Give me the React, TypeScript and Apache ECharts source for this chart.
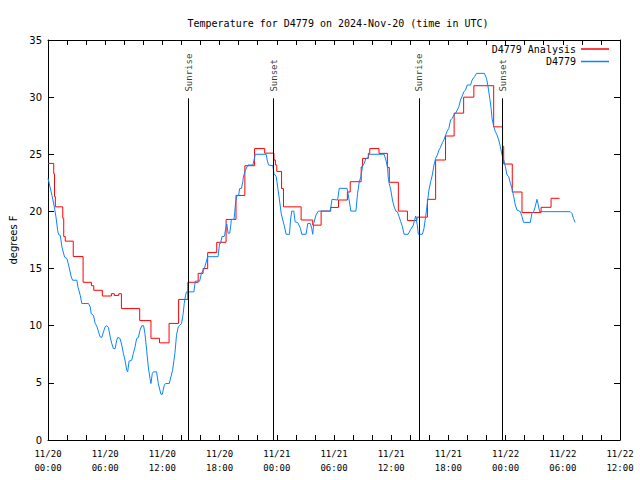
import React, { useEffect, useRef } from "react";
import * as echarts from "echarts";

// hours since 2024-11-20 00:00 UTC
const analysisTimes = [
  0, 0.6, 0.68, 0.77, 1.55, 1.65, 1.81, 2.65, 3.68, 4.55, 4.8, 5.7, 6.65, 6.95, 7.42, 7.7,
  9.62, 10.8, 11.7, 12.7, 13.7, 14.67, 15.75, 16.27, 16.75, 17.7, 18.68, 19.72, 20.65, 21.67,
  22.73, 23.7, 23.85, 24.0, 24.5, 24.7, 26.55, 27.77, 28.65, 29.65, 30.47, 31.4, 31.7, 32.85,
  33.0, 33.6, 33.75, 34.72, 35.6, 35.8, 36.75, 37.7, 38.7, 39.8, 40.66, 41.7, 42.6, 43.6,
  44.67, 46.75, 47.68, 47.8, 48.7, 49.72, 51.72, 52.77, 53.66,
];
const analysisValues = [
  24.2, 23.3, 21.3, 20.4, 19.4, 17.8, 17.4, 16.05, 13.8, 13.5, 13.1, 12.6, 12.8, 12.65, 12.8, 11.5,
  10.45, 8.9, 8.5, 10.2, 12.3, 13.8, 14.58, 15.0, 16.4, 17.3, 19.3, 21.4, 24.0, 25.5,
  25.1, 24.5, 24.06, 23.5, 22.0, 20.4, 19.25, 18.8, 20.03, 20.35, 21.0, 21.7, 22.6, 23.9,
  24.64, 25.08, 25.5, 25.08, 23.85, 22.55, 20.03, 19.2, 19.5, 21.06, 24.5, 26.6, 28.6, 30.0,
  31.0, 27.4, 25.7, 24.15, 21.7, 19.9, 20.36, 21.15, 21.15,
];

const obsTimes = [
  0.0, 0.42, 0.66, 0.84, 1.01, 1.11, 1.29, 1.46, 1.74, 1.99, 2.16, 2.44, 2.58, 3.03, 3.14, 3.38,
  3.55, 4.25, 4.43, 4.53, 4.77, 4.95, 5.12, 5.3, 5.47, 5.64, 5.82, 5.99, 6.17, 6.34, 6.52, 6.69,
  6.86, 7.04, 7.21, 7.32, 7.56, 7.74, 7.91, 8.08, 8.26, 8.36, 8.5, 8.78, 8.95, 9.13, 9.3, 9.48,
  9.65, 9.83, 10.03, 10.17, 10.35, 10.52, 10.7, 10.8, 10.94, 11.05, 11.39, 11.57, 11.74, 11.85,
  11.99, 12.2, 12.33, 12.72, 12.89, 13.07, 13.21, 13.31, 13.48, 13.66, 13.83, 14.01, 14.18, 14.29,
  14.43, 14.53, 15.3, 15.45, 15.9, 16.1, 16.4, 16.75, 17.84, 18.0, 18.11, 18.25, 18.47,
  18.54, 18.64, 18.75, 18.89, 19.06, 19.16, 19.23, 19.51, 19.58, 19.69, 19.83, 20.0, 20.1, 20.28,
  20.42, 20.49, 20.7, 20.97, 21.5, 21.74, 22.89, 22.99, 23.13, 23.59, 23.69, 23.94, 24.11, 24.28,
  24.46, 24.63, 24.81, 24.98, 25.33, 25.44, 25.57, 25.78, 25.92, 26.2, 26.48, 26.62, 27.07, 27.25,
  27.52, 27.66, 27.77, 27.87, 28.11, 28.36, 29.61, 29.79, 30.38, 30.55, 31.36, 31.5, 31.77, 32.3,
  32.47, 32.65, 32.82, 33.0, 33.17, 33.35, 33.52, 33.69, 35.26, 35.44, 35.61, 35.68, 35.79, 35.96,
  36.13, 36.31, 36.48, 36.65, 36.83, 37.0, 37.18, 37.35, 37.77, 38.05, 38.32, 38.46, 38.57, 38.74,
  38.85, 39.27, 39.44, 39.61, 39.79, 39.96, 40.14, 40.31, 40.49, 40.66, 40.84, 41.01, 41.18, 41.36,
  41.53, 41.71, 41.88, 42.05, 42.23, 42.4, 42.58, 42.75, 42.93, 43.1, 43.27, 43.45, 43.62, 43.8,
  43.97, 44.32, 44.49, 44.74, 44.95, 45.78, 45.99, 46.13, 46.34, 46.48, 46.58, 46.76, 46.93, 47.1,
  47.28, 47.45, 47.63, 47.81, 47.98, 48.15, 48.33, 48.5, 48.67, 48.85, 49.02, 49.2, 49.55, 49.72,
  49.89, 50.59, 50.76, 50.94, 51.11, 51.29, 51.39, 51.57, 54.77, 54.95, 55.12, 55.29,
];
const obsValues = [
  22.9, 21.4, 20.4, 19.5, 18.35, 17.97, 17.9, 16.9, 16.0, 15.87, 15.3, 14.27, 13.98, 13.98, 13.4, 12.67,
  11.94, 11.94, 11.65, 11.06, 10.9, 10.19, 9.96, 9.46, 9.02, 8.97, 9.46, 9.9, 10.0, 9.84, 9.02, 8.44,
  8.0, 8.0, 8.73, 8.97, 8.88, 8.3, 7.57, 6.98, 6.1, 5.96, 6.9, 6.98, 7.57, 8.15, 8.88, 8.97,
  9.6, 10.0, 10.0, 9.3, 7.86, 6.4, 5.38, 4.94, 5.82, 5.96, 5.96, 4.94, 4.36, 4.0,
  4.0, 4.8, 4.94, 4.94, 5.52, 6.1, 6.98, 7.57, 9.17, 9.9, 10.04, 10.19, 11.06, 11.94,
  12.67, 12.96, 12.96, 13.9, 13.9, 14.6, 15.0, 16.04, 16.04, 17.2, 17.2, 17.8, 17.8,
  18.0, 18.5, 18.9, 18.1, 18.1, 18.7, 19.3, 19.3, 19.9, 20.85, 21.4, 21.4, 22.0, 22.0,
  22.5, 23.0, 23.6, 24.06, 24.06, 25.0, 25.0, 24.5, 24.06, 24.0, 23.33, 23.04, 22.02, 21.0,
  19.83, 19.25, 18.66, 18.0, 18.0, 19.25, 20.03, 20.03, 19.1, 19.02, 18.52, 18.0, 18.0, 18.95,
  18.95, 18.52, 18.0, 18.95, 19.68, 20.03, 20.03, 21.06, 21.0, 22.02, 22.02, 21.44, 20.03, 20.03,
  21.58, 22.6, 23.04, 23.97, 24.2, 24.64, 24.64, 25.0, 25.0, 24.5, 23.91, 23.04, 22.45, 21.87,
  21.0, 20.41, 20.03, 19.97, 19.54, 19.1, 18.66, 18.0, 18.0, 18.43, 18.8, 19.3, 19.6, 18.8,
  18.0, 18.0, 18.52, 19.54, 20.71, 21.87, 22.6, 23.19, 24.06, 24.65, 24.94, 25.37, 25.61, 26.01,
  26.25, 26.69, 27.04, 27.27, 28.0, 28.15, 28.44, 28.58, 28.87, 29.17, 29.75, 30.1, 30.48, 30.62,
  31.06, 31.06, 31.5, 31.79, 32.08, 32.08, 31.65, 31.06, 29.9, 29.02, 28.15, 27.41, 26.98, 26.69,
  26.25, 25.67, 24.94, 24.5, 23.91, 23.19, 23.04, 22.46, 22.02, 21.29, 20.56, 20.12, 19.98, 19.54,
  19.04, 19.04, 19.83, 19.98, 20.42, 21.06, 20.71, 19.98, 19.98, 19.83, 19.39, 19.04,
];

const eventTimes = [14.75, 23.66, 38.92, 47.7];
const eventNames = ["Sunrise", "Sunset", "Sunrise", "Sunset"];
const eventLineTop = 29.9;
const eventLabelAt = 30.4;

const yTicks = [0, 5, 10, 15, 20, 25, 30, 35];
const xMin = 0;
const xMax = 60;

const MONO = "'DejaVu Sans Mono', 'Liberation Mono', monospace";
const SANS = "'DejaVu Sans', sans-serif";

function pad(n: number) {
  return n < 10 ? "0" + n : String(n);
}

export default function App() {
  const ref = useRef<HTMLDivElement>(null);
  useEffect(() => {
    if (!ref.current) return;
    const chart = echarts.init(ref.current, null, { renderer: "svg" });
    const redData = analysisTimes.map((t, i) => [t, analysisValues[i]]);
    const blueData = obsTimes.map((t, i) => [t, obsValues[i]]);
    const axisCommonX = {
      type: "value",
      min: xMin,
      max: xMax,
      interval: 2,
      splitLine: { show: false },
      axisLine: { show: true, onZero: false, lineStyle: { color: "#000", width: 1 } },
      axisTick: { show: true, inside: true, length: 5, lineStyle: { color: "#000" } },
    };
    const axisCommonY = {
      type: "value",
      min: yTicks[0],
      max: yTicks[yTicks.length - 1],
      interval: 5,
      splitLine: { show: false },
      axisLine: { show: true, onZero: false, lineStyle: { color: "#000", width: 1 } },
      axisTick: { show: true, inside: true, length: 6, lineStyle: { color: "#000" } },
    };
    chart.setOption({
      animation: false,
      backgroundColor: "#fff",
      title: {
        text: "Temperature for D4779 on 2024-Nov-20 (time in UTC)",
        left: 333,
        textAlign: "center",
        top: 13,
        textStyle: { fontFamily: MONO, fontSize: 10, fontWeight: "normal", color: "#000" },
      },
      legend: [
        {
          data: ["D4779 Analysis"],
          right: 31,
          top: 44,
          padding: 0,
          align: "right",
          icon: "rect",
          itemWidth: 28,
          itemHeight: 1.5,
          selectedMode: false,
          textStyle: { fontFamily: MONO, fontSize: 10, color: "#000" },
        },
        {
          data: ["D4779"],
          right: 31,
          top: 56.5,
          padding: 0,
          align: "right",
          icon: "rect",
          itemWidth: 28,
          itemHeight: 1.5,
          selectedMode: false,
          textStyle: { fontFamily: MONO, fontSize: 10, color: "#000" },
        },
      ],
      grid: { left: 46, right: 20, top: 40, bottom: 40, containLabel: false },
      xAxis: [
        {
          ...axisCommonX,
          position: "bottom",
          axisLabel: {
            show: true,
            margin: 7,
            fontFamily: MONO,
            fontSize: 9,
            lineHeight: 14,
            color: "#000",
            showMinLabel: true,
            showMaxLabel: true,
            formatter: (v: number) => {
              if (Math.round(v) % 6 !== 0) return "";
              const day = 20 + Math.floor(v / 24);
              return "11/" + day + "\n" + pad(Math.round(v) % 24) + ":00";
            },
          },
        },
        { ...axisCommonX, position: "top", axisLabel: { show: false } },
      ],
      yAxis: [
        {
          ...axisCommonY,
          position: "left",
          name: "degrees F",
          nameLocation: "middle",
          nameRotate: 90,
          nameGap: 30,
          nameTextStyle: { fontFamily: SANS, fontSize: 10, color: "#000" },
          axisLabel: { show: true, margin: 6, fontFamily: SANS, fontSize: 10, color: "#000" },
        },
        { ...axisCommonY, position: "right", axisLabel: { show: false } },
      ],
      series: [
        {
          name: "D4779 Analysis",
          type: "line",
          step: "end",
          data: redData,
          showSymbol: false,
          symbol: "none",
          color: "#ff0000",
          lineStyle: { color: "#ff0000", width: 1 },
          xAxisIndex: 0,
          yAxisIndex: 0,
          z: 3,
        },
        {
          name: "D4779",
          type: "line",
          data: blueData,
          showSymbol: false,
          symbol: "none",
          color: "#0a84ff",
          lineStyle: { color: "#0a84ff", width: 1 },
          xAxisIndex: 0,
          yAxisIndex: 0,
          z: 4,
        },
        {
          name: "events",
          type: "scatter",
          symbolSize: 0,
          xAxisIndex: 0,
          yAxisIndex: 0,
          silent: true,
          data: eventTimes.map((t, i) => [t, eventLabelAt, eventNames[i]]),
          label: {
            show: true,
            position: "inside",
            rotate: 90,
            align: "left",
            verticalAlign: "middle",
            offset: [1, 0],
            fontFamily: MONO,
            fontSize: 9,
            color: "#000",
            formatter: (p: any) => p.data[2],
          },
          markLine: {
            silent: true,
            symbol: "none",
            label: { show: false },
            lineStyle: { color: "#000", width: 1, type: "solid" },
            data: eventTimes.map((t) => [{ coord: [t, 0] }, { coord: [t, eventLineTop] }]),
          },
          z: 5,
        },
      ],
    });
    return () => chart.dispose();
  }, []);
  return (
    <div
      ref={ref}
      style={{ position: "fixed", left: 0, top: 0, width: 640, height: 480, background: "#fff" }}
    />
  );
}
